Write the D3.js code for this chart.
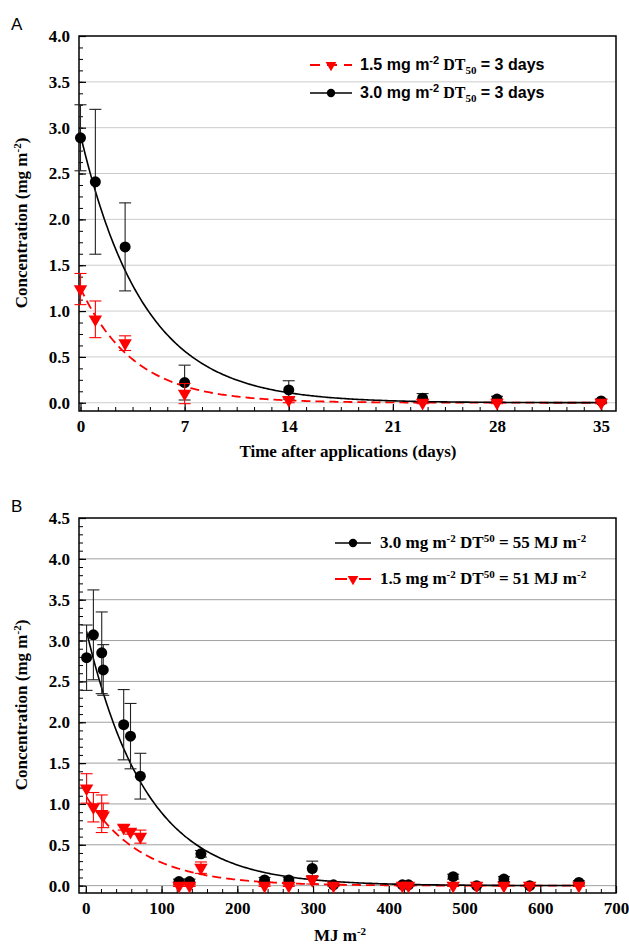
<!DOCTYPE html>
<html>
<head>
<meta charset="utf-8">
<script src="https://cdn.jsdelivr.net/npm/d3@7"></script>
<style>
body { margin: 0; background: #fff; }
</style>
</head>
<body>
<div id="chart"></div>
<script>
// panel A: days after application
var daysA = [0, 1, 3, 7, 14, 23, 28, 35];
var highA = [2.89, 2.41, 1.70, 0.22, 0.14, 0.05, 0.04, 0.02];
var highErrA = [0.36, 0.79, 0.48, 0.19, 0.10, 0.05, 0.03, 0.02];
var lowA = [1.24, 0.91, 0.65, 0.10, 0.03, 0.0, 0.0, 0.0];
var lowErrA = [0.17, 0.20, 0.08, 0.11, 0.03, 0.01, 0.01, 0.01];
var xTicksA = [0, 7, 14, 21, 28, 35];
var yTicksA = [0, 0.5, 1, 1.5, 2, 2.5, 3, 3.5, 4];

// panel B: cumulative radiation (MJ m-2)
var mjB = [1, 10, 21, 23, 50, 59, 72, 123, 137, 152, 236, 268, 299, 327, 418, 426, 485, 516, 552, 586, 651];
var highB = [2.79, 3.07, 2.85, 2.64, 1.97, 1.83, 1.34, 0.05, 0.05, 0.39, 0.07, 0.07, 0.21, 0.01, 0.01, 0.01, 0.11, 0.0, 0.08, 0.0, 0.04];
var highErrB = [0.40, 0.55, 0.50, 0.31, 0.43, 0.40, 0.28, 0.03, 0.03, 0.04, 0.03, 0.03, 0.09, 0.01, 0.01, 0.01, 0.03, 0.01, 0.03, 0.01, 0.02];
var lowB = [1.19, 0.96, 0.88, 0.86, 0.71, 0.66, 0.60, 0.0, 0.0, 0.22, 0.0, 0.0, 0.07, 0.0, 0.0, 0.0, 0.0, 0.0, 0.0, 0.0, 0.0];
var lowErrB = [0.18, 0.18, 0.23, 0.15, 0.03, 0.03, 0.08, 0.01, 0.01, 0.07, 0.01, 0.01, 0.05, 0.01, 0.01, 0.01, 0.01, 0.01, 0.01, 0.01, 0.01];
var xTicksB = [0, 100, 200, 300, 400, 500, 600, 700];
var yTicksB = [0, 0.5, 1, 1.5, 2, 2.5, 3, 3.5, 4, 4.5];

// first-order decay fits: start value and half-life
var fitHighA = {c0: 2.92, dt50: 2.95, from: 0, to: 35};
var fitLowA = {c0: 1.25, dt50: 2.5, from: 0, to: 35};
var fitHighB = {c0: 3.15, dt50: 55, from: 1, to: 651};
var fitLowB = {c0: 1.10, dt50: 51, from: 1, to: 651};

var W = 629, H = 945;
var serif = "'Liberation Serif', 'Times New Roman', serif";
var sans = "'Liberation Sans', Arial, sans-serif";
var red = "#ff0000";

var svg = d3.select('#chart').append('svg')
    .attr('width', W)
    .attr('height', H)
    .style('display', 'block');

function decayCurve(f, step) {
    return d3.range(f.from, f.to + step / 2, step).map(function(t) {
        return [t, f.c0 * Math.exp(-Math.LN2 / f.dt50 * t)];
    });
}

function drawPanel(p) {
    var g = svg.append('g').attr('transform', 'translate(' + p.left + ',' + p.top + ')');
    var w = p.width, h = p.height;

    var x = d3.scaleLinear().domain(p.xDomain).range([0, w]);
    var y = d3.scaleLinear().domain(p.yDomain).range([h, 0]);

    // grid
    g.selectAll('.grid')
        .data(p.yTicks.filter(function(d) { return d < p.yDomain[1]; }))
        .enter().append('line')
        .attr('x1', 0).attr('x2', w)
        .attr('y1', function(d) { return y(d); })
        .attr('y2', function(d) { return y(d); })
        .attr('stroke', p.gridColor)
        .attr('stroke-width', 1);

    // minor ticks
    g.append('g')
        .attr('transform', 'translate(0,' + h + ')')
        .call(d3.axisBottom(x).tickValues(p.xMinor).tickSizeInner(-4).tickSizeOuter(0).tickFormat(''))
        .call(function(s) { s.select('.domain').remove(); });
    g.append('g')
        .call(d3.axisLeft(y).tickValues(p.yMinor).tickSizeInner(-4).tickSizeOuter(0).tickFormat(''))
        .call(function(s) { s.select('.domain').remove(); });

    // major axes
    var xa = g.append('g')
        .attr('transform', 'translate(0,' + h + ')')
        .call(d3.axisBottom(x).tickValues(p.xTicks).tickSizeInner(-7).tickSizeOuter(0).tickPadding(9)
            .tickFormat(d3.format('d')));
    var ya = g.append('g')
        .call(d3.axisLeft(y).tickValues(p.yTicks).tickSizeInner(-7).tickSizeOuter(0).tickPadding(9)
            .tickFormat(d3.format('.1f')));
    [xa, ya].forEach(function(a) {
        a.select('.domain').remove();
        a.selectAll('line').attr('stroke', '#000').attr('stroke-width', 1.2);
        a.selectAll('text')
            .attr('fill', '#000')
            .style('font-family', serif)
            .style('font-weight', 'bold')
            .style('font-size', '17px');
    });
    g.selectAll('.tick line').attr('stroke', '#000');

    // frame
    g.append('rect')
        .attr('width', w).attr('height', h)
        .attr('fill', 'none')
        .attr('stroke', '#000')
        .attr('stroke-width', 1.5);

    // fitted curves
    var line = d3.line()
        .x(function(d) { return x(d[0]); })
        .y(function(d) { return y(d[1]); });
    g.append('path')
        .datum(decayCurve(p.fitLow, p.step))
        .attr('d', line)
        .attr('fill', 'none')
        .attr('stroke', red)
        .attr('stroke-width', 1.8)
        .attr('stroke-dasharray', '9,5');
    g.append('path')
        .datum(decayCurve(p.fitHigh, p.step))
        .attr('d', line)
        .attr('fill', 'none')
        .attr('stroke', '#000')
        .attr('stroke-width', 1.6);

    function errorBars(xs, vals, errs, color) {
        var eb = g.append('g').attr('stroke', color).attr('stroke-width', 1.1);
        xs.forEach(function(xv, i) {
            var cx = x(xv), y1 = y(vals[i] + errs[i]), y0 = y(vals[i] - errs[i]);
            eb.append('line').attr('x1', cx).attr('x2', cx).attr('y1', y1).attr('y2', y0);
            eb.append('line').attr('x1', cx - 6).attr('x2', cx + 6).attr('y1', y1).attr('y2', y1);
            eb.append('line').attr('x1', cx - 6).attr('x2', cx + 6).attr('y1', y0).attr('y2', y0);
        });
    }

    var tri = d3.symbol().type(d3.symbolTriangle).size(78);

    function drawLow() {
        errorBars(p.xs, p.low, p.lowErr, red);
        g.selectAll('.tri')
            .data(p.xs)
            .enter().append('path')
            .attr('d', tri)
            .attr('transform', function(d, i) { return 'translate(' + x(d) + ',' + y(p.low[i]) + ') rotate(180)'; })
            .attr('fill', red);
    }
    function drawHigh() {
        errorBars(p.xs, p.high, p.highErr, '#222');
        g.selectAll('.dot')
            .data(p.xs)
            .enter().append('circle')
            .attr('cx', function(d) { return x(d); })
            .attr('cy', function(d, i) { return y(p.high[i]); })
            .attr('r', 5.5)
            .attr('fill', '#000');
    }
    if (p.lowOnTop) { drawHigh(); drawLow(); } else { drawLow(); drawHigh(); }

    return g;
}

function legendRow(lx, ly, kind, parts) {
    var lg = svg.append('g');
    var len = parts.len;
    if (kind === 'low') {
        lg.append('line').attr('x1', lx).attr('x2', lx + len).attr('y1', ly).attr('y2', ly)
            .attr('stroke', red).attr('stroke-width', 1.8).attr('stroke-dasharray', parts.dash);
        lg.append('path').attr('d', d3.symbol().type(d3.symbolTriangle).size(50))
            .attr('transform', 'translate(' + (lx + len / 2) + ',' + ly + ') rotate(180)')
            .attr('fill', red);
    } else {
        lg.append('line').attr('x1', lx).attr('x2', lx + len).attr('y1', ly).attr('y2', ly)
            .attr('stroke', '#000').attr('stroke-width', 1.6);
        lg.append('circle').attr('cx', lx + len / 2).attr('cy', ly).attr('r', 4.2).attr('fill', '#000');
    }
    var t = lg.append('text')
        .attr('x', lx + len + parts.gap)
        .attr('y', ly + 5)
        .style('font-weight', 'bold')
        .style('font-size', parts.size + 'px')
        .style('font-family', parts.family);
    parts.spans.forEach(function(s) {
        t.append('tspan')
            .attr('dy', s.dy || 0)
            .style('font-size', s.small ? '11px' : null)
            .style('font-family', s.family || null)
            .text(s.text);
    });
}

var panelA = drawPanel({
    left: 79, top: 36, width: 537, height: 375,
    xDomain: [-0.1, 36], yDomain: [-0.09, 4.0],
    xTicks: xTicksA, yTicks: yTicksA,
    xMinor: d3.range(0, 36.1, 7 / 6), yMinor: d3.range(0, 4.01, 0.125),
    gridColor: '#cccccc',
    xs: daysA, high: highA, highErr: highErrA, low: lowA, lowErr: lowErrA,
    fitHigh: fitHighA, fitLow: fitLowA, step: 0.1, lowOnTop: true
});

var panelB = drawPanel({
    left: 79, top: 518, width: 537, height: 375,
    xDomain: [-9, 700], yDomain: [-0.09, 4.5],
    xTicks: xTicksB, yTicks: yTicksB,
    xMinor: d3.range(0, 701, 20), yMinor: d3.range(0, 4.51, 0.1),
    gridColor: '#a0a0a0',
    xs: mjB, high: highB, highErr: highErrB, low: lowB, lowErr: lowErrB,
    fitHigh: fitHighB, fitLow: fitLowB, step: 2, lowOnTop: true
});

// legends
legendRow(310, 65, 'low', {size: 16, family: sans, len: 42, gap: 8, dash: '10,7', spans: [
    {text: '1.5 mg m'}, {text: '-2', small: true, dy: -6},
    {text: ' DT', family: serif, dy: 6}, {text: '50', small: true, family: serif, dy: 4},
    {text: ' = 3 days', dy: -4}]});
legendRow(310, 93, 'high', {size: 16, family: sans, len: 42, gap: 8, spans: [
    {text: '3.0 mg m'}, {text: '-2', small: true, dy: -6},
    {text: ' DT', family: serif, dy: 6}, {text: '50', small: true, family: serif, dy: 4},
    {text: ' = 3 days', dy: -4}]});
legendRow(335, 543, 'high', {size: 17, family: serif, len: 36, gap: 9, spans: [
    {text: '3.0 mg m'}, {text: '-2', small: true, dy: -6},
    {text: ' DT', dy: 6}, {text: '50', small: true, dy: -6},
    {text: ' = 55 MJ m', dy: 6}, {text: '-2', small: true, dy: -6}]});
legendRow(335, 579, 'low', {size: 17, family: serif, len: 36, gap: 9, dash: '12,12', spans: [
    {text: '1.5 mg m'}, {text: '-2', small: true, dy: -6},
    {text: ' DT', dy: 6}, {text: '50', small: true, dy: -6},
    {text: ' = 51 MJ m', dy: 6}, {text: '-2', small: true, dy: -6}]});

// axis titles
function yTitle(cx, cy) {
    var t = svg.append('text')
        .attr('transform', 'translate(' + cx + ',' + cy + ') rotate(-90)')
        .attr('text-anchor', 'middle')
        .style('font-family', serif)
        .style('font-weight', 'bold')
        .style('font-size', '17px');
    t.append('tspan').text('Concentration (mg m');
    t.append('tspan').attr('dy', -6).style('font-size', '11px').text('-2');
    t.append('tspan').attr('dy', 6).text(')');
}
yTitle(27, 223);
yTitle(27, 705);

svg.append('text')
    .attr('x', 348).attr('y', 457)
    .attr('text-anchor', 'middle')
    .style('font-family', serif)
    .style('font-weight', 'bold')
    .style('font-size', '17px')
    .text('Time after applications (days)');

var mj = svg.append('text')
    .attr('x', 340).attr('y', 941)
    .attr('text-anchor', 'middle')
    .style('font-family', serif)
    .style('font-weight', 'bold')
    .style('font-size', '17px');
mj.append('tspan').text('MJ m');
mj.append('tspan').attr('dy', -6).style('font-size', '11px').text('-2');

// panel letters
svg.append('text').attr('x', 11).attr('y', 30)
    .style('font-family', sans).style('font-size', '17px').text('A');
svg.append('text').attr('x', 11).attr('y', 512)
    .style('font-family', sans).style('font-size', '17px').text('B');
</script>
</body>
</html>
